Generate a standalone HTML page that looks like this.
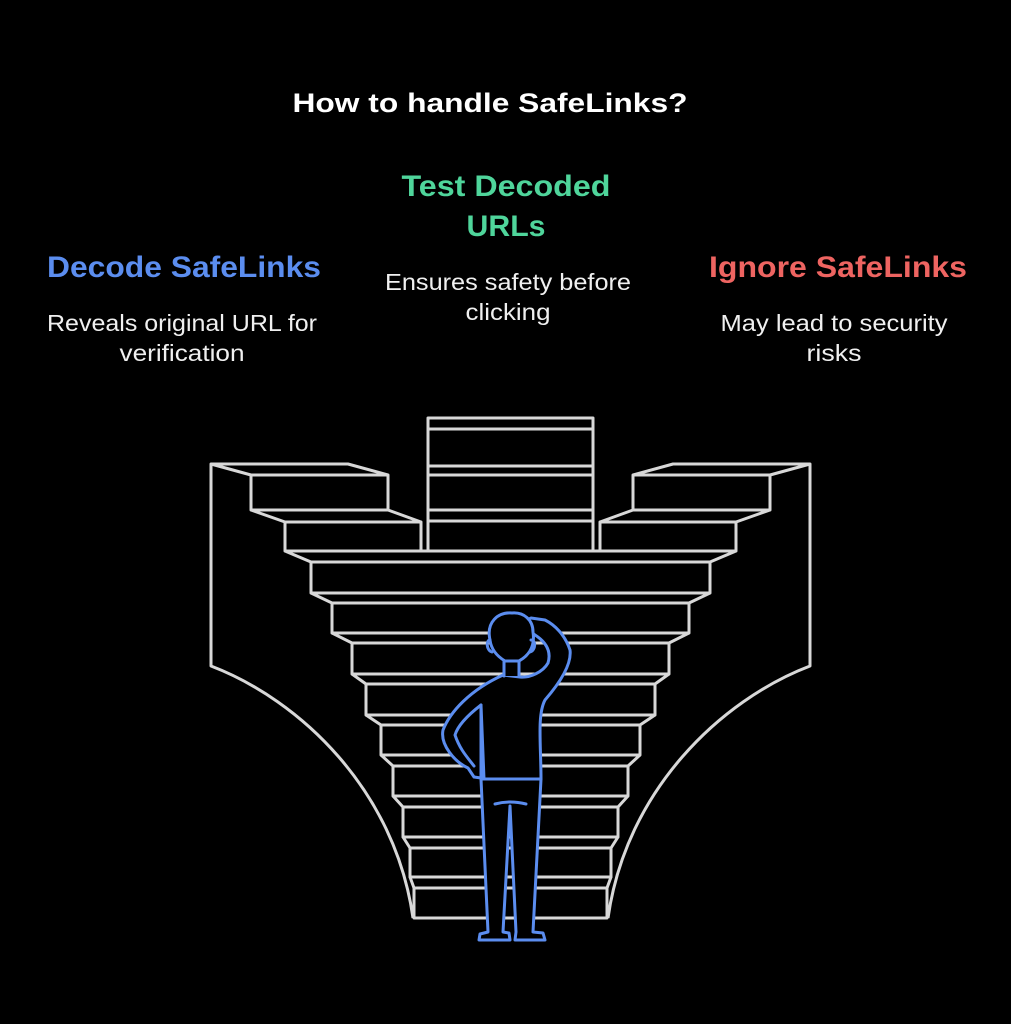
<!DOCTYPE html>
<html><head><meta charset="utf-8"><style>
html,body{margin:0;padding:0;background:#000;}
svg{display:block}
text{font-family:"Liberation Sans",sans-serif;}
</style></head><body>
<svg width="1011" height="1024" viewBox="0 0 1011 1024" xmlns="http://www.w3.org/2000/svg">
<rect width="1011" height="1024" fill="#000"/>
<text x="490" y="112" font-size="27" font-weight="bold" fill="#fff" text-anchor="middle" textLength="395" lengthAdjust="spacingAndGlyphs">How to handle SafeLinks?</text>
<text x="506" y="196" font-size="30" font-weight="bold" fill="#4fd59b" text-anchor="middle" textLength="209" lengthAdjust="spacingAndGlyphs">Test Decoded</text>
<text x="506" y="236" font-size="30" font-weight="bold" fill="#4fd59b" text-anchor="middle" textLength="79" lengthAdjust="spacingAndGlyphs">URLs</text>
<text x="184" y="277" font-size="30" font-weight="bold" fill="#5b8def" text-anchor="middle" textLength="274" lengthAdjust="spacingAndGlyphs">Decode SafeLinks</text>
<text x="838" y="277" font-size="30" font-weight="bold" fill="#ee6461" text-anchor="middle" textLength="258" lengthAdjust="spacingAndGlyphs">Ignore SafeLinks</text>
<g fill="#f0f0f0" font-size="23" text-anchor="middle">
<text x="182" y="331" textLength="270" lengthAdjust="spacingAndGlyphs">Reveals original URL for</text>
<text x="182" y="361" textLength="125" lengthAdjust="spacingAndGlyphs">verification</text>
<text x="508" y="290" textLength="246" lengthAdjust="spacingAndGlyphs">Ensures safety before</text>
<text x="508" y="320" textLength="85" lengthAdjust="spacingAndGlyphs">clicking</text>
<text x="834" y="331" textLength="227" lengthAdjust="spacingAndGlyphs">May lead to security</text>
<text x="834" y="361" textLength="55" lengthAdjust="spacingAndGlyphs">risks</text>
</g>
<g fill="none" stroke="#d8d8d8" stroke-width="3" stroke-linejoin="round">
<g id="wing">
<path d="M413,918 C395,790 300,700 211,666 L211,464 L348,464 L388,475"/>
<line x1="211" y1="464" x2="251" y2="475"/>
<rect x="251" y="475" width="137" height="35"/>
<line x1="251" y1="510" x2="285" y2="522"/>
<line x1="388" y1="510" x2="421" y2="522"/>
<rect x="285" y="522" width="136" height="29"/>
<line x1="285" y1="551" x2="311" y2="562"/>
<line x1="311" y1="593" x2="332" y2="603"/>
<line x1="332" y1="633" x2="352" y2="643"/>
<line x1="352" y1="674" x2="366" y2="684"/>
<line x1="366" y1="715" x2="381" y2="725"/>
<line x1="381" y1="755" x2="393" y2="766"/>
<line x1="393" y1="796" x2="403" y2="807"/>
<line x1="403" y1="837" x2="410" y2="848"/>
<line x1="410" y1="877" x2="414" y2="888"/>
</g>
<use href="#wing" transform="translate(1021,0) scale(-1,1)"/>
<rect x="428" y="418" width="165" height="133"/>
<line x1="428" y1="429" x2="593" y2="429"/>
<line x1="428" y1="466" x2="593" y2="466"/>
<line x1="428" y1="475" x2="593" y2="475"/>
<line x1="428" y1="510" x2="593" y2="510"/>
<line x1="428" y1="521" x2="593" y2="521"/>
<line x1="285" y1="551" x2="736" y2="551"/>
<rect x="311" y="562" width="399" height="31"/>
<rect x="332" y="603" width="357" height="30"/>
<rect x="352" y="643" width="317" height="31"/>
<rect x="366" y="684" width="289" height="31"/>
<rect x="381" y="725" width="259" height="30"/>
<rect x="393" y="766" width="235" height="30"/>
<rect x="403" y="807" width="215" height="30"/>
<rect x="410" y="848" width="201" height="29"/>
<rect x="414" y="888" width="193" height="30"/>
</g>
<g fill="#000" stroke="#5b8def" stroke-width="3" stroke-linejoin="round" stroke-linecap="round">
<path d="M481,779 L488,932 L480,934 L479,940 L510,940 L509,933 L503,932 L510,806 L516,932 L515,940 L545,940 L543,933 L533,932 L541,779 Z"/>
<path d="M495,804 Q510,800 526,804" fill="none"/>
<path d="M503,675 C470,690 450,712 443,730 C440,745 455,762 468,768 L474,777 L481,778 L481,705 L484,779 L541,779 C541,745 537,715 545,700 C558,685 572,665 570,650 C565,635 555,625 545,620 L531,618 C525,620 524,627 530,632 C545,640 552,650 548,663 C543,672 530,678 520,677 Z"/>
<path d="M481,705 C468,715 458,725 455,735 C460,750 468,758 474,766" fill="none"/>
<path d="M504,676 L504,660 L519,660 L519,676"/>
<path d="M490,640 C486,622 498,612 512,613 C524,612 533,620 533,632 C535,645 530,655 519,661 L505,661 C495,655 491,648 490,640 Z"/>
<path d="M490,640 C486,640 486,650 492,652" fill="none"/>
<path d="M531,640 C536,640 536,650 530,652" fill="none"/>
</g>
</svg>
</body></html>
